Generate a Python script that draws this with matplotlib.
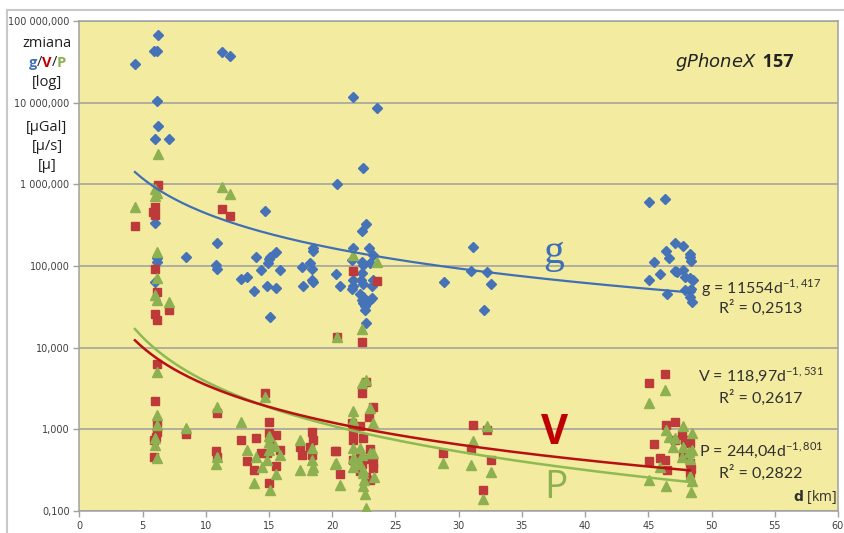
import matplotlib.pyplot as plt
import matplotlib.ticker as mticker
from matplotlib.lines import Line2D
import numpy as np

# g (blue diamonds): distance d [km], change
g_d = [4.43, 6.23, 5.91, 6.12, 6.12, 6.23, 6.01, 7.06, 6.01, 6.12, 6.17, 6.01, 8.44,
       11.27, 11.92, 10.92, 10.82, 10.92, 12.77, 13.29, 13.82, 13.98, 14.38, 14.69,
       14.83, 14.95, 15.03, 15.09, 15.09, 15.54, 15.54, 15.88, 17.6, 17.67, 18.25,
       18.39, 18.47, 18.47, 18.39, 18.51, 20.31, 20.63, 20.41, 21.63, 23.53, 22.42,
       21.63, 21.68, 21.63, 21.57, 21.57, 22.32, 22.42, 22.68, 22.37, 22.34, 22.26,
       22.47, 22.21, 22.47, 22.37, 22.47, 22.57, 22.63, 22.68, 22.94, 23.0, 23.21,
       23.21, 23.15, 23.0, 23.15, 28.85, 31.12, 30.97, 32.28, 32.55, 32.02,
       45.02, 46.34, 47.13, 47.78, 46.42, 48.26, 48.31, 48.37, 46.6, 45.47, 45.94,
       47.13, 47.26, 47.78, 47.92, 48.31, 48.53, 45.02, 46.47, 47.92, 48.37, 48.31,
       48.31, 48.45]
g_val = [30000, 67900, 43300, 43300, 10600, 5170, 3640, 3640, 333, 124, 113, 63, 128,
         41400, 37600, 190, 103, 91, 69, 74, 49, 128, 89, 472,
         57, 108, 121, 130, 24, 150, 54, 89, 98, 57, 110,
         91, 168, 153, 67, 63, 80, 57, 1010, 11800, 8670, 1600,
         165, 67, 57, 52, 119, 113, 103, 327, 271, 81, 67,
         61, 46, 42, 38, 35, 32, 29, 20, 165, 110, 136,
         67, 57, 38, 40, 63, 172, 87, 85, 61, 29,
         612, 661, 190, 177, 153, 140, 128, 116, 124, 112, 80,
         88, 84, 89, 74, 71, 67, 67, 46, 51, 53, 49,
         42, 36]

# V (red squares)
v_d = [4.43, 6.23, 6.01, 5.81, 6.01, 6.01, 6.12, 6.01, 6.12, 7.06, 6.12, 5.99, 6.12,
       6.12, 5.91, 6.05, 5.91, 8.44, 11.27, 11.92, 10.92, 10.82, 10.92, 12.77, 13.29,
       13.82, 13.98, 14.38, 14.69, 14.83, 15.03, 15.03, 15.03, 15.09, 15.54, 15.54,
       15.88, 17.46, 17.59, 18.39, 18.47, 18.25, 18.39, 20.31, 20.63, 20.36, 21.63,
       23.53, 22.37, 22.68, 22.37, 23.26, 22.94, 21.57, 22.21, 21.63, 21.63, 22.42,
       20.25, 23.0, 21.68, 22.21, 22.37, 22.94, 23.26, 23.21, 22.21, 22.64, 23.0,
       28.8, 31.12, 30.97, 32.23, 32.55, 31.96, 45.02, 46.34, 46.42, 47.13, 45.47,
       45.89, 45.02, 46.34, 46.47, 47.66, 47.92, 48.26, 47.13, 47.78, 48.26, 48.37,
       48.31]
v_val = [309, 990, 532, 463, 421, 91, 48, 26, 22, 29, 6.3, 2.2, 1.19,
         0.94, 0.74, 0.80, 0.46, 0.88, 499, 413, 1.57, 0.55, 0.46, 0.74, 0.41,
         0.32, 0.78, 0.51, 2.8, 0.51, 1.22, 0.89, 0.22, 0.74, 0.85, 0.36,
         0.56, 0.60, 0.49, 0.94, 0.74, 0.61, 0.49, 0.54, 0.28, 13.4, 88,
         66, 11.8, 3.8, 2.8, 1.9, 1.41, 1.19, 1.10, 0.94, 0.74, 0.78,
         0.55, 0.57, 0.42, 0.46, 0.38, 0.43, 0.39, 0.34, 0.31, 0.26, 0.24,
         0.52, 1.13, 0.57, 0.98, 0.42, 0.18, 3.7, 4.7, 1.13, 1.24, 0.66,
         0.45, 0.41, 0.42, 0.32, 0.85, 0.74, 0.68, 0.74, 0.49, 0.39, 0.33,
         0.29]

# P (green triangles)
p_d = [4.43, 6.23, 5.99, 6.12, 5.99, 6.12, 6.12, 5.99, 6.12, 7.06, 6.17, 6.12, 6.12,
       5.99, 5.99, 6.12, 8.44, 11.27, 11.92, 10.92, 10.92, 10.82, 12.77, 13.29, 13.82,
       13.98, 14.43, 14.69, 14.83, 15.03, 15.03, 15.03, 15.09, 15.5, 15.54, 15.88,
       17.46, 17.46, 18.39, 18.39, 18.47, 18.39, 20.31, 20.25, 20.63, 20.36, 21.63,
       23.53, 22.37, 22.68, 22.34, 21.68, 23.0, 21.63, 23.26, 21.63, 21.63, 21.68,
       22.21, 22.37, 22.21, 22.47, 22.42, 22.52, 22.47, 22.63, 22.68, 21.81, 23.0,
       23.26, 23.31, 28.8, 31.12, 30.97, 32.23, 32.55, 31.96, 45.02, 46.34, 46.42,
       46.6, 47.13, 46.99, 47.78, 48.45, 47.78, 48.18, 48.45, 45.94, 47.66, 48.31,
       45.02, 46.42, 48.31, 48.45, 48.37]
p_val = [523, 2350, 870, 790, 726, 150, 71, 44, 38, 36, 5.0, 1.50, 1.13,
         0.78, 0.64, 0.44, 1.03, 935, 762, 1.9, 0.46, 0.38, 1.24, 0.56, 0.22,
         0.46, 0.35, 2.5, 0.42, 0.83, 0.69, 0.56, 0.18, 0.63, 0.28, 0.49,
         0.74, 0.32, 0.59, 0.42, 0.35, 0.32, 0.39, 0.38, 0.21, 13.4, 136,
         113, 17, 4.0, 3.7, 1.7, 1.8, 1.30, 1.19, 0.59, 0.44, 0.35,
         0.59, 0.49, 0.38, 0.32, 0.29, 0.24, 0.20, 0.16, 0.11, 0.42, 0.51,
         0.51, 0.26, 0.39, 0.71, 0.37, 1.10, 0.30, 0.14, 2.1, 3.0, 0.98,
         0.80, 0.78, 0.61, 1.10, 0.91, 0.61, 0.53, 0.56, 0.35, 0.46, 0.43,
         0.24, 0.20, 0.27, 0.23, 0.17]

# power trend lines: a * d^b
g_fit = (11554, -1.417, "0,2513")
v_fit = (118.97, -1.531, "0,2617")
p_fit = (244.04, -1.801, "0,2822")

x_ticks = [0, 5, 10, 15, 20, 25, 30, 35, 40, 45, 50, 55, 60]
y_ticks = [0.1, 1, 10, 100, 1000, 10000, 100000]

blue = '#4672B8'
red = '#BE3A3A'
green = '#8DB051'
bg = '#F3EBA0'

fig = plt.figure(figsize=(8.45, 5.33), dpi=100)
ax = fig.add_axes([79.3 / 845, 1 - 511 / 533, (838 - 79.3) / 845, (511 - 21) / 533])
ax.set_facecolor(bg)

ax.plot(g_d, g_val, 'D', color=blue, ms=5.5, mec=blue, zorder=3)
ax.plot(v_d, v_val, 's', color=red, ms=6, mec=red, zorder=4)
ax.plot(p_d, p_val, '^', color=green, ms=6.5, mec=green, zorder=5)

dd = np.linspace(4.4, 48.3, 200)
ax.plot(dd, g_fit[0] * dd ** g_fit[1], color='#3F6FB5', lw=1.6, zorder=6)
ax.plot(dd, p_fit[0] * dd ** p_fit[1], color='#8DBB52', lw=1.8, zorder=6)
ax.plot(dd, v_fit[0] * dd ** v_fit[1], color='#B80F12', lw=1.8, zorder=7)

ax.set_yscale('log')
ax.set_xlim(0, 60)
ax.set_ylim(0.1, 100000)
ax.set_xticks(x_ticks)
ax.set_yticks(y_ticks)
ax.yaxis.set_minor_locator(mticker.NullLocator())


def pl_fmt(v, pos):
    return f"{v:,.3f}".replace(",", " ").replace(".", ",")


ax.yaxis.set_major_formatter(mticker.FuncFormatter(pl_fmt))
ax.grid(axis='y', color='#9E9E9E', lw=1.1)
ax.set_axisbelow(True)
for s in ax.spines.values():
    s.set_color('#A0A0A0')
    s.set_linewidth(1.1)
ax.tick_params(axis='both', colors='#A0A0A0', labelcolor='#404040', labelsize=7,
               length=4, width=1)
ax.tick_params(axis='y', pad=3)

# left axis label
lab = dict(transform=fig.transFigure, ha='center', fontsize=10.5, family='Open Sans', color='#202020')
cx = 47
fig.text(cx / 845, 1 - 43 / 533, 'zmiana', va='center', **lab)
fig.text((cx - 14) / 845, 1 - 63 / 533, 'g', va='center', color=blue, fontsize=10.5, family='Open Sans',
         transform=fig.transFigure, ha='center', fontweight='bold')
fig.text((cx - 7.5) / 845, 1 - 63 / 533, '/', va='center', **lab)
fig.text(cx / 845, 1 - 63 / 533, 'V', va='center', color='#C00000', fontsize=10.5, family='Open Sans',
         transform=fig.transFigure, ha='center', fontweight='bold')
fig.text((cx + 7.5) / 845, 1 - 63 / 533, '/', va='center', **lab)
fig.text((cx + 14) / 845, 1 - 63 / 533, 'P', va='center', color=green, fontsize=10.5, family='Open Sans',
         transform=fig.transFigure, ha='center', fontweight='bold')
fig.text(cx / 845, 1 - 82 / 533, '[log]', va='center', **lab)
fig.text(cx / 845, 1 - 127 / 533, '[\u03bcGal]', va='center', **lab)
fig.text(cx / 845, 1 - 146 / 533, '[\u03bc/s]', va='center', **lab)
fig.text(cx / 845, 1 - 165 / 533, '[\u03bc]', va='center', **lab)

# title
ax.text(0.893, 0.917, r'$\bf{\it{gPhoneX}}$', transform=ax.transAxes, ha='right', va='center',
        fontsize=13, color='#222222')
ax.text(0.895, 0.917, ' 157', transform=ax.transAxes, ha='left', va='center',
        fontsize=13, fontweight='bold', family='Open Sans', color='#222222')

# series labels
ax.text(37.5, 145, 'g', color='#3F6FB5', fontsize=30, family='Liberation Serif', ha='center', va='center')
ax.text(37.6, 0.88, 'V', color='#C00000', fontsize=30, fontweight='bold', family='Open Sans',
        ha='center', va='center')
ax.text(37.7, 0.19, 'P', color='#8DB051', fontsize=28, family='Open Sans', ha='center', va='center')

# equations
eq = dict(fontsize=11.5, family='Lato', color='#303030', ha='center', va='center')
ax.text(53.9, 54, r'g = 11554d$^{\mathregular{-1,417}}$', **eq)
ax.text(53.9, 30.6, 'R\u00b2 = ' + g_fit[2], **eq)
ax.text(53.9, 4.6, r'V = 118,97d$^{\mathregular{-1,531}}$', **eq)
ax.text(53.9, 2.4, 'R\u00b2 = ' + v_fit[2], **eq)
ax.text(53.9, 0.56, r'P = 244,04d$^{\mathregular{-1,801}}$', **eq)
ax.text(53.9, 0.29, 'R\u00b2 = ' + p_fit[2], **eq)

ax.text(59.9, 0.149, r'$\bf{d}$ [km]', ha='right', va='center', fontsize=10, family='Open Sans',
        color='#303030')

# outer chart frame
fig.add_artist(Line2D([7 / 845, 7 / 845], [0, 1 - 10 / 533], transform=fig.transFigure,
                      color='#C8C8C8', lw=1.5))
fig.add_artist(Line2D([7 / 845, 1], [1 - 10 / 533, 1 - 10 / 533], transform=fig.transFigure,
                      color='#C8C8C8', lw=1.5))

fig.savefig('out.png', dpi=100)
